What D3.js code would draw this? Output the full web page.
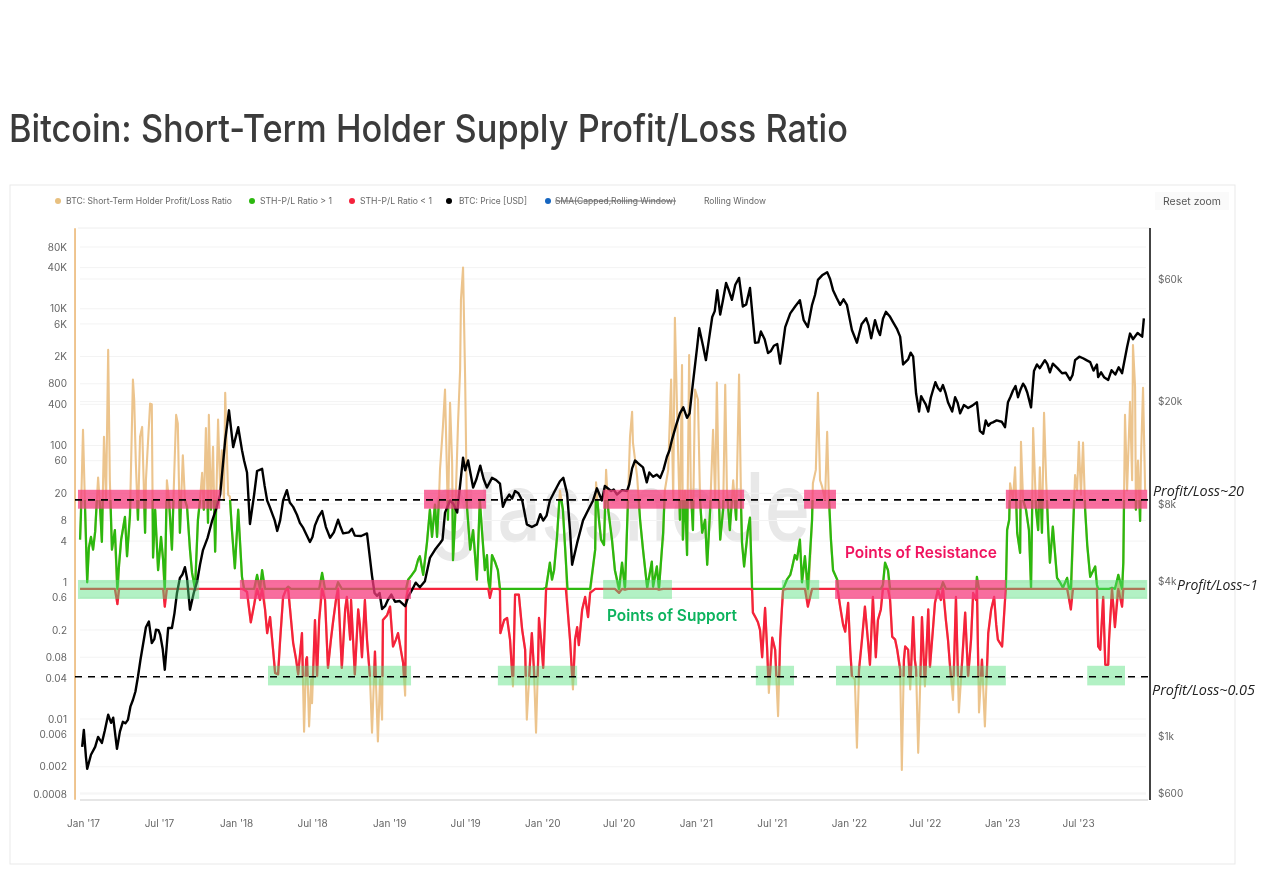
<!DOCTYPE html>
<html>
<head>
<meta charset="utf-8">
<title>Bitcoin: Short-Term Holder Supply Profit/Loss Ratio</title>
<script src="https://cdn.jsdelivr.net/npm/d3@7"></script>
<style>
  html, body { margin: 0; padding: 0; background: #fff; overflow: hidden; }
  svg { display: block; font-family: Inter, "Noto Sans", sans-serif; filter: blur(0.45px); }
</style>
</head>
<body>
<svg id="chart" width="1264" height="888"></svg>
<script>
// days since 1 Jan 2017, values in USD
var priceDays = [-2,2,7,10,19,29,36,45,60,67,72,81,95,107,119,131,143,157,164,174,184,195,203,212,224,231,243,255,272,286,308,327,339,348,358,370,379,391,398,408,415,427,439,451,463,477,486,501,510,525,541,553,570,589,608,620,648,677,689,701,713,727,744,768,784,803,827,851,863,875,892,906,911,918,930,947,963,975,994,1001,1016,1030,1047,1058,1082,1097,1113,1137,1154,1161,1166,1178,1192,1204,1216,1225,1237,1244,1259,1273,1297,1309,1323,1335,1344,1359,1376,1392,1404,1423,1440,1452,1464,1469,1478,1485,1500,1512,1519,1533,1547,1564,1573,1590,1602,1616,1633,1647,1662,1674,1686,1709,1728,1738,1752,1774,1788,1805,1821,1845,1867,1879,1888,1900,1914,1931,1948,1955,1967,1979,1993,2003,2015,2026,2038,2050,2062,2072,2079,2091,2110,2131,2138,2146,2158,2169,2198,2205,2217,2229,2241,2251,2260,2267,2281,2293,2305,2312,2334,2353,2365,2384,2401,2417,2420,2434,2444,2461,2477,2489,2503,2525,2529];
var priceValues = [907,1056,830,745,845,907,992,940,1210,1125,1178,891,1135,1155,1380,1700,2265,2790,2300,2590,2480,1810,2630,2630,3600,4120,4540,3100,3985,5290,6890,8700,14200,18500,13300,15900,12950,10600,6680,8700,10740,10950,8250,7330,6280,8250,9050,7790,7260,6450,5690,6600,7500,5910,6940,6140,6020,6140,4200,3510,3120,3390,3330,3200,3690,3790,4930,5620,7400,8250,7400,12100,10800,11800,9260,11270,9260,10100,9600,7790,8700,8980,8250,6660,6660,6890,8250,9800,8800,6300,4640,5640,6900,7560,8250,9200,8250,9390,8980,8700,8980,11000,11520,11100,9700,10200,10100,12200,14200,18000,17300,22100,32600,38600,33000,29000,42700,54300,43600,57900,49800,60600,46900,55400,33900,37500,30900,33000,28100,39000,44100,49600,39000,47600,59500,63800,54300,47600,47600,33900,42200,35300,41500,36300,44700,40800,35800,27900,29200,29900,18300,20300,18300,22100,22600,23200,19900,18300,20800,18000,18900,19900,15400,15000,16100,16600,15900,19900,22100,20800,23500,21700,19000,26300,27000,29000,26000,28100,25800,24300,29000,29500,28500,27900,24900,24900,24300,25500,25800,32600,35000,35800,42200];

// smaller zigzags of the price between the turning points above
var priceDaysFine = [52,88,101,113,125,137,150,170,180,190,218,237,248,264,279,297,318,384,433,445,457,470,493,517,533,547,561,579,598,614,634,641,663,695,707,720,735,755,776,793,815,839,857,883,938,955,985,1008,1023,1038,1070,1090,1105,1125,1145,1265,1285,1302,1316,1350,1368,1384,1398,1414,1431,1446,1506,1526,1540,1555,1581,1610,1625,1640,1655,1668,1698,1718,1745,1762,1781,1797,1813,1833,1856,1873,1895,1907,1923,1940,1973,1986,1998,2009,2021,2032,2044,2056,2085,2100,2120,2152,2164,2178,2190,2211,2223,2235,2246,2274,2287,2299,2323,2343,2359,2375,2392,2409,2427,2452,2469,2496,2514];
var priceValuesFine = [1050,1040,1120,1300,1490,1980,2650,2380,2580,2180,3000,4250,4100,3600,4650,5900,7700,11800,9400,7800,6900,6900,8100,6750,6050,5950,7100,6500,6200,6500,6200,6400,6000,3600,3600,3200,3550,3350,3500,3950,4000,5300,5800,8000,10000,10000,9900,8300,8400,8800,6500,7300,7200,9000,10100,9100,9050,9500,11800,10600,10400,10900,12900,16200,19000,18000,45000,50000,54000,57000,47800,34000,35000,31500,33500,33000,47000,41500,52000,62000,60000,50500,50000,38000,40000,39500,37900,42000,43000,38500,31000,21500,21000,19500,20700,23800,22000,21700,19800,19400,19300,16900,16500,16900,16700,20900,23000,22300,22800,27900,28000,28000,27000,25900,25400,29900,29000,26400,26000,26500,27200,36800,37000];

var ratioDays = [-7,-5,0,5,10,14,19,24,29,33,36,41,45,50,55,60,64,69,76,82,86,91,100,105,112,119,122,126,131,136,141,148,150,160,164,167,172,179,186,191,195,200,205,212,217,222,226,231,238,243,248,255,260,267,274,279,284,288,293,298,300,305,310,315,322,327,331,336,339,346,350,355,362,370,374,379,384,
  391,400,408,415,422,427,434,439,446,453,458,465,470,477,484,489,496,501,508,513,522,527,532,534,539,544,546,553,558,563,570,577,584,591,596,603,608,617,625,629,637,639,648,656,660,665,672,677,684,689,696,703,708,713,715,725,732,739,746,751,758,763,768,770,775,784,792,799,803,811,820,827,832,839,844,849,851,858,863,868,870,875,880,882,887,894,899,901,906,911,915,923,930,939,946,951,958,963,966,970,975,982,989,994,995,1004,1011,1018,1025,1030,1039,1047,1054,1058,1066,1070,1075,1080,1085,1087,1092,1097,1104,1113,1118,1123,1130,1137,1144,1151,1155,1161,1168,1173,1178,1182,1190,1197,1204,1209,1221,1223,1230,1235,1242,1247,1252,1261,1268,1278,1285,1292,1299,1304,1309,1311,1321,1328,1335,1345,1356,1359,1368,1373,1383,1387,1395,1402,1407,1411,1418,1423,1428,1430,1435,1440,1445,1449,1454,1459,1466,1471,1476,1483,1488,1495,1502,1507,1511,1516,1519,1526,1531,1535,1542,1550,1557,1564,1569,1571,1576,1585,1590,1595,1597,1604,1609,1614,1619,1626,1631,1635,1643,1650,1657,1662,1666,1669,1678,1686,1690,1697,1702,1709,1714,1721,1728,1738,1740,1747,1752,1757,1762,1769,1774,1778,1783,1788,1798,1800,1805,1812,1817,1824,1829,1833,1840,1845,1850,1857,1864,1871,1876,1883,1890,1895,1902,1907,1912,1919,1924,1929,1936,1941,1948,1952,1957,1960,1967,1972,1979,1983,1986,1991,1993,2000,2007,2015,2019,2026,2031,2038,2045,2050,2057,2062,2067,2074,2081,2088,2096,2103,2110,2117,2122,2129,2131,2136,2143,2150,2158,2165,2172,2177,2181,2191,2198,2200,2203,2208,2210,2217,2222,2227,2234,2236,2241,2248,2255,2260,2262,2265,2272,2277,2281,2286,2291,2296,2301,2305,2312,2322,2329,2336,2346,2351,2355,2360,2365,2370,2374,2379,2384,2389,2394,2401,2413,2417,2420,2425,2432,2437,2444,2446,2453,2460,2468,2477,2480,2484,2489,2496,2501,2503,2508,2510,2515,2520,2522,2527,2532];
var ratioValues = [4.2,9.6,170,11.5,1,3.2,4.6,3,5.5,16,34,11.5,3.9,134,16,2500,31,3,5.8,.48,1.8,4.2,9,2.4,9.6,920,470,55,8.2,134,187,5.3,31,410,400,2.3,11.5,1.5,4.6,2.1,.44,31,16,3,31,280,210,5.3,72,16,12.7,3,1.37,.78,8.2,16,40,11.5,180,7.4,280,11.5,96,2.8,240,22,85,16,590,19,18,5.8,1.6,11.5,4.2,1.2,.78,
  .72,.26,.47,1.28,.55,1.5,.4,.18,.31,.105,.047,.045,.145,.61,.78,.86,.28,.13,.074,.045,.18,.0065,.074,.08,.0078,.038,.017,.28,.042,.28,1.37,.55,.056,.145,.26,.55,1,.056,.4,.61,.145,.55,.045,.4,.24,.08,.55,.145,.042,.0063,.097,.0047,.038,.0098,.28,.33,.44,.115,.145,.18,.1,.067,.022,.55,1.09,1.28,1.5,2.15,2.4,1.28,3.8,11.5,4.6,13.6,4.6,19,44,187,660,31,8.2,420,55,2.1,8.2,210,1280,13500,40000,920,13.6,3,5.8,1.09,16,5.8,1.5,2.5,1.09,.59,2.5,2,1.5,.78,.18,.28,.3,.145,.03,.66,.66,.2,.103,.0098,.074,.18,.053,.0063,.074,.3,.145,.056,.83,1.93,1.09,1.5,4.6,22,11.5,2.1,.42,.145,.027,.145,.22,.12,.4,.61,.31,.7,3,29,8.2,4.2,3.5,44,11.5,4.2,1.5,.7,1.93,.78,14.5,134,311,110,35,8.2,3,.83,2,.86,1.7,.78,5.3,22,44,920,16,7400,110,8.2,1500,4.2,22,2.5,2100,22,5.8,660,470,16,5.3,8.2,1.8,11.5,170,16,830,16,4.2,11.5,770,22,5.8,31,8.2,1090,11.5,3.8,1.7,5.8,8.8,.78,.36,.3,.26,.2,.08,.42,.103,.024,.155,.103,.011,.145,.4,.78,1.09,1.28,1.6,2.5,2.15,4.2,1,2.4,.44,8.2,28,44,590,31,25,16,158,18,4.2,1.5,1.09,.72,.44,.24,.19,.5,.103,.042,.038,.0038,.053,.145,.44,.145,.062,.61,.08,.28,.4,.92,1.93,1.5,.55,.16,.145,.103,.053,.0018,.074,.115,.103,.027,.31,.074,.053,.0032,.0078,.31,.03,.4,.058,.2,.5,.78,.55,1,.28,.145,.058,.019,.61,.0125,.074,.36,.042,.145,.7,.55,1.2,.0125,.074,.0078,.18,.4,.61,.24,.145,.115,.55,.78,5.8,8.2,28,16,48,5.3,2.7,113,16,11.5,5.8,.83,5.8,180,11.5,5.8,48,5.3,300,31,5.8,1.93,6.5,1.16,1,.83,1.16,.55,.4,5.3,37,22,113,19,110,11.5,3.5,1.2,1.7,.92,.115,.103,.61,.062,.062,.145,.83,.22,1.28,.44,1.93,280,22,437,31,2950,720,11.5,60,7.9,60,700,22];

var edgeDays = [-19, -19];
var edgeValues = [150000, 0.00066];

var upperLevel = 16, midLevel = 0.8, lowerLevel = 0.0414;

var leftTicks = [80000,40000,10000,6000,2000,800,400,100,60,20,8,4,1,0.6,0.2,0.08,0.04,0.01,0.006,0.002,0.0008];
var leftLabels = ["80K","40K","10K","6K","2K","800","400","100","60","20","8","4","1","0.6","0.2","0.08","0.04","0.01","0.006","0.002","0.0008"];
var rightTicks = [60000,20000,8000,4000,1000,600];
var rightLabels = ["$60k","$20k","$8k","$4k","$1k","$600"];
var dateTicks = ["2017-01-01","2017-07-01","2018-01-01","2018-07-01","2019-01-01","2019-07-01","2020-01-01","2020-07-01","2021-01-01","2021-07-01","2022-01-01","2022-07-01","2023-01-01","2023-07-01"];

// bands: day from, day to
var resistanceHigh = [[-12,327],[813,961],[1240,1576],[1719,1795],[2200,2537]];
var resistanceMid = [[374,782],[1793,2200]];
var supportMid = [[-12,277],[1240,1404],[1666,1755],[2200,2537]];
var supportLow = [[441,782],[989,1178],[1604,1695],[1795,2200],[2394,2484]];
var bandHigh = [22.5, 11.9], bandMid = [1.08, 0.57], bandLow = [0.06, 0.031];

var legendNames = ["BTC: Short-Term Holder Profit/Loss Ratio","STH-P/L Ratio > 1","STH-P/L Ratio < 1","BTC: Price [USD]","SMA(Capped,Rolling Window)","Rolling Window"];
var legendColors = ["#e8c07f","#2cb80f","#f5223c","#000","#1565c0",null];

var svg = d3.select("#chart"),
    start = Date.UTC(2017, 0, 1),
    toDate = function (d) { return new Date(start + d * 864e5); };

var x = d3.scaleUtc().domain([toDate(0), toDate(2556)]).range([83, 1155.2]),
    yRatio = d3.scaleLog().domain([0.0008, 80000]).range([794, 247]),
    yPrice = d3.scaleLog().domain([600, 60000]).range([793, 279]);

// card
svg.append("rect").attr("x", 10).attr("y", 185).attr("width", 1225).attr("height", 679)
    .attr("fill", "#fff").attr("stroke", "#e9e9e9");

svg.append("text").attr("x", 9).attr("y", 142).attr("font-size", 38).attr("font-weight", 500).attr("fill", "#3b3b3b")
    .attr("textLength", 839).attr("lengthAdjust", "spacingAndGlyphs")
    .text("Bitcoin: Short-Term Holder Supply Profit/Loss Ratio");

// legend
var legendDot = [58, 252, 352, 449, 548, null],
    legendText = [[66, 166], [260, 72], [360, 72], [459, 68], [555, 121], [704, 62]],
    legend = svg.append("g").attr("font-size", 9).attr("fill", "#666");
legendNames.forEach(function (name, i) {
    if (legendColors[i]) legend.append("circle").attr("cx", legendDot[i]).attr("cy", 201).attr("r", 3).attr("fill", legendColors[i]);
    var t = legend.append("text").attr("x", legendText[i][0]).attr("y", 204)
        .attr("textLength", legendText[i][1]).attr("lengthAdjust", "spacingAndGlyphs").text(name);
    if (i === 4) t.attr("text-decoration", "line-through");
});

svg.append("rect").attr("x", 1155).attr("y", 192).attr("width", 74).attr("height", 18).attr("fill", "#fafafa");
svg.append("text").attr("x", 1163).attr("y", 205).attr("font-size", 10.5).attr("fill", "#555")
    .attr("textLength", 58).attr("lengthAdjust", "spacingAndGlyphs").text("Reset zoom");

// watermark
svg.append("text").attr("transform", "translate(430,541) scale(1,1.25)").attr("font-size", 76).attr("font-weight", 500)
    .attr("fill", "#e8e8e8").attr("textLength", 380).attr("lengthAdjust", "spacingAndGlyphs").text("glassnode");

// grid
var grid = svg.append("g").attr("stroke", "#f3f3f3");
leftTicks.forEach(function (t) {
    grid.append("line").attr("x1", 80).attr("x2", 1146).attr("y1", yRatio(t)).attr("y2", yRatio(t));
});
rightTicks.forEach(function (t) {
    grid.append("line").attr("x1", 80).attr("x2", 1146).attr("y1", yPrice(t)).attr("y2", yPrice(t));
});
grid.append("line").attr("x1", 78).attr("x2", 1150).attr("y1", 228).attr("y2", 228).attr("stroke", "#eee");
grid.append("line").attr("x1", 80).attr("x2", 1148).attr("y1", 800).attr("y2", 800).attr("stroke", "#e6e6e6").attr("stroke-width", 2);

// axes
var axisLeft = d3.axisLeft(yRatio).tickValues(leftTicks).tickSize(0).tickPadding(8)
        .tickFormat(function (d, i) { return leftLabels[i]; }),
    axisRight = d3.axisRight(yPrice).tickValues(rightTicks).tickSize(0).tickPadding(8)
        .tickFormat(function (d, i) { return rightLabels[i]; }),
    axisBottom = d3.axisBottom(x).tickValues(dateTicks.map(function (s) { return new Date(s); })).tickSize(0).tickPadding(0)
        .tickFormat(d3.utcFormat("%b '%y"));

function styleAxis(g) {
    g.attr("font-family", null).attr("font-size", 10);
    g.select(".domain").remove();
    g.selectAll("text").attr("fill", "#666");
}
svg.append("g").attr("transform", "translate(75,0)").call(axisLeft).call(styleAxis);
svg.append("g").attr("transform", "translate(1150,0)").call(axisRight).call(styleAxis);
svg.append("g").attr("transform", "translate(0,820)").call(axisBottom).call(styleAxis);

svg.append("line").attr("x1", 1150).attr("x2", 1150).attr("y1", 228).attr("y2", 800)
    .attr("stroke", "#444").attr("stroke-width", 2);

// clip the coloured parts of the ratio to the levels
var defs = svg.append("defs");
defs.append("clipPath").attr("id", "belowUpper").append("rect")
    .attr("x", 0).attr("width", 1264).attr("y", yRatio(upperLevel)).attr("height", 888 - yRatio(upperLevel));
defs.append("clipPath").attr("id", "aboveLower").append("rect")
    .attr("x", 0).attr("width", 1264).attr("y", 0).attr("height", yRatio(lowerLevel));

var ratio = ratioDays.map(function (d, i) { return { date: toDate(d), v: ratioValues[i] }; }),
    price = priceDays.map(function (d, i) { return { date: toDate(d), v: priceValues[i], day: d }; })
        .concat(priceDaysFine.map(function (d, i) { return { date: toDate(d), v: priceValuesFine[i], day: d }; }))
        .sort(function (a, b) { return a.day - b.day; }),
    edge = edgeDays.map(function (d, i) { return { date: toDate(d), v: edgeValues[i] }; });

function lineOf(scale, fn) {
    return d3.line().x(function (d) { return x(d.date); }).y(function (d) { return scale(fn(d.v)); });
}
var same = function (v) { return v; };

var plain = svg.append("g").attr("fill", "none").attr("stroke-linejoin", "round");
plain.append("path").attr("d", lineOf(yRatio, same)(edge)).attr("stroke", "#edbf85").attr("stroke-width", 1.8);
plain.append("path").attr("d", lineOf(yRatio, same)(ratio)).attr("stroke", "#ecc48d").attr("stroke-width", 2.1);
plain.append("path").attr("d", lineOf(yRatio, function (v) { return Math.max(v, midLevel); })(ratio))
    .attr("stroke", "#2cb80f").attr("stroke-width", 2.3).attr("clip-path", "url(#belowUpper)");
plain.append("path").attr("d", lineOf(yRatio, function (v) { return Math.min(v, midLevel); })(ratio))
    .attr("stroke", "#f5223c").attr("stroke-width", 2.3).attr("clip-path", "url(#aboveLower)");
plain.append("path").attr("d", lineOf(yPrice, same)(price)).attr("stroke", "#000").attr("stroke-width", 2.4);

// bands
function drawBands(list, range, color) {
    svg.append("g").selectAll("rect").data(list).join("rect")
        .attr("x", function (d) { return x(toDate(d[0])); })
        .attr("width", function (d) { return x(toDate(d[1])) - x(toDate(d[0])); })
        .attr("y", yRatio(range[0]))
        .attr("height", yRatio(range[1]) - yRatio(range[0]))
        .attr("fill", color);
}
drawBands(resistanceHigh, bandHigh, "rgba(246,60,125,.75)");
drawBands(resistanceMid, bandMid, "rgba(246,60,125,.75)");
drawBands(supportMid, bandMid, "rgba(85,225,125,.45)");
drawBands(supportLow, bandLow, "rgba(85,225,125,.45)");

// reference levels
[upperLevel, lowerLevel].forEach(function (l) {
    svg.append("line").attr("x1", 75).attr("x2", 1153).attr("y1", yRatio(l)).attr("y2", yRatio(l))
        .attr("stroke", "#000").attr("stroke-width", 1.6).attr("stroke-dasharray", "7,6");
});

// annotations
svg.append("text").attr("x", 845).attr("y", 558).attr("font-size", 16).attr("font-weight", 600)
    .attr("fill", "#f0145f").attr("textLength", 152).attr("lengthAdjust", "spacingAndGlyphs").text("Points of Resistance");
svg.append("text").attr("x", 607).attr("y", 621).attr("font-size", 16).attr("font-weight", 600)
    .attr("fill", "#0db35e").attr("textLength", 130).attr("lengthAdjust", "spacingAndGlyphs").text("Points of Support");

var notes = [["Profit/Loss~20", 1153, 496, 91], ["Profit/Loss~1", 1177, 590, 81], ["Profit/Loss~0.05", 1152, 695, 103]];
notes.forEach(function (n) {
    svg.append("text").attr("x", n[1]).attr("y", n[2]).attr("font-family", "'Open Sans'").attr("font-style", "italic")
        .attr("font-size", 14.5).attr("fill", "#222").attr("textLength", n[3]).attr("lengthAdjust", "spacingAndGlyphs").text(n[0]);
});
</script>
</body>
</html>
